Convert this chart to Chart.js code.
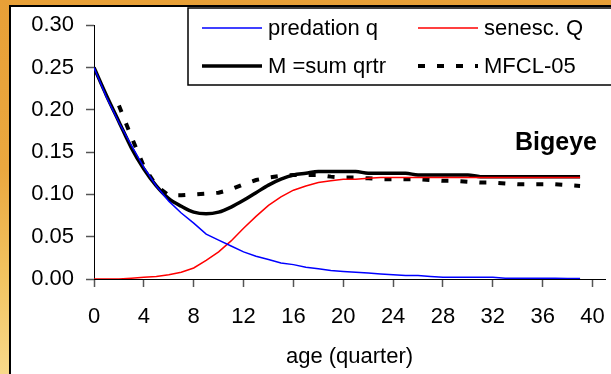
<!DOCTYPE html>
<html>
<head>
<meta charset="utf-8">
<title>Bigeye natural mortality at age</title>
<script src="https://cdn.jsdelivr.net/npm/chart.js@4/dist/chart.umd.min.js"></script>
<style>
    html, body { margin: 0; padding: 0; }
    body {
        width: 611px; height: 374px; overflow: hidden; position: relative;
        background: linear-gradient(180deg, #e8a037 0%, #eaa83f 45%, #f2c462 75%, #f8d98a 100%);
    }
    .panel {
        position: absolute; left: 9px; top: 5px; width: 700px; height: 500px;
        border: 2px solid #000; background: #fff;
    }
    #chart { position: absolute; left: 0; top: 0; }
</style>
</head>
<body>
<div class="panel"></div>
<canvas id="chart" width="611" height="374"></canvas>
<script>
'use strict';

// ============================================================
// Data — quarterly natural mortality by age
// ============================================================
const ages = [0,1,2,3,4,5,6,7,8,9,10,11,12,13,14,15,16,17,18,19,
              20,21,22,23,24,25,26,27,28,29,30,31,32,33,34,35,36,37,38,39];

const predation = [0.250,0.215,0.185,0.158,0.132,0.110,0.092,0.078,0.066,0.053,
                   0.046,0.039,0.032,0.027,0.023,0.019,0.017,0.014,0.012,0.010,
                   0.009,0.008,0.007,0.006,0.005,0.004,0.004,0.003,0.002,0.002,
                   0.002,0.002,0.002,0.001,0.001,0.001,0.001,0.001,0.0005,0.0005];

const senescence = [0,0,0,0.001,0.002,0.003,0.005,0.008,0.013,0.022,
                    0.032,0.045,0.060,0.074,0.087,0.097,0.105,0.110,0.114,0.116,
                    0.118,0.118,0.119,0.120,0.120,0.120,0.120,0.120,0.120,0.120,
                    0.120,0.120,0.120,0.120,0.120,0.120,0.120,0.120,0.120,0.120];

const totalM = [0.250,0.217,0.186,0.155,0.130,0.110,0.095,0.086,0.079,0.077,
                0.079,0.085,0.093,0.102,0.111,0.118,0.123,0.125,0.127,0.127,
                0.127,0.127,0.125,0.125,0.125,0.125,0.123,0.123,0.123,0.123,
                0.123,0.121,0.121,0.121,0.121,0.121,0.121,0.121,0.121,0.121];

const mfcl05 = [null,null,0.205,0.168,0.133,0.110,0.099,0.099,0.100,0.101,
                0.102,0.106,0.112,0.117,0.120,0.122,0.123,0.123,0.123,0.121,
                0.120,0.120,0.119,0.118,0.118,0.118,0.118,0.117,0.116,0.116,
                0.115,0.114,0.114,0.113,0.112,0.112,0.112,0.112,0.111,0.110];

const xTicks = [0, 4, 8, 12, 16, 20, 24, 28, 32, 36, 40];
const yTicks = [0, 0.05, 0.10, 0.15, 0.20, 0.25, 0.30];

const FONT = "'Liberation Sans', Arial, sans-serif";

function points(values) {
    return ages.map((a, i) => ({ x: a, y: values[i] }));
}

// ============================================================
// Plugins — boxed legend and species label
// ============================================================
const boxLegend = {
    id: 'boxLegend',
    afterDraw(chart) {
        const ctx = chart.ctx;
        const ds  = chart.data.datasets;
        const slots = [
            { i: 0, x: 202, y: 28 }, { i: 1, x: 418, y: 28 },
            { i: 2, x: 202, y: 66 }, { i: 3, x: 418, y: 66 }
        ];
        ctx.save();
        ctx.fillStyle = '#fff';
        ctx.fillRect(188, 8, 430, 77);
        ctx.strokeStyle = '#000';
        ctx.lineWidth = 1.5;
        ctx.strokeRect(188, 8, 430, 77);

        slots.forEach(s => {
            const d = ds[s.i];
            ctx.beginPath();
            ctx.strokeStyle = d.borderColor;
            ctx.lineWidth   = d.borderWidth;
            ctx.setLineDash(d.borderDash || []);
            ctx.lineCap = 'butt';
            ctx.moveTo(s.x, s.y);
            ctx.lineTo(s.x + 60, s.y);
            ctx.stroke();
            ctx.setLineDash([]);
            ctx.fillStyle = '#000';
            ctx.font = '22px ' + FONT;
            ctx.textBaseline = 'middle';
            ctx.textAlign = 'left';
            ctx.fillText(d.label, s.x + 66, s.y + 1);
        });

        ctx.font = 'bold 25px ' + FONT;
        ctx.textAlign = 'right';
        ctx.textBaseline = 'alphabetic';
        ctx.fillText('Bigeye', 597, 150);
        ctx.restore();
    }
};

// ============================================================
// Chart
// ============================================================
Chart.defaults.font.family = FONT;
Chart.defaults.color = '#000';

new Chart(document.getElementById('chart'), {
    type: 'line',
    data: {
        datasets: [
            { label: 'predation q', data: points(predation), borderColor: '#0000ff', borderWidth: 1.5, tension: 0 },
            { label: 'senesc. Q', data: points(senescence), borderColor: '#ff0000', borderWidth: 1.5, tension: 0 },
            { label: 'M =sum qrtr', data: points(totalM), borderColor: '#000', borderWidth: 3.5, cubicInterpolationMode: 'monotone' },
            { label: 'MFCL-05', data: points(mfcl05), borderColor: '#000', borderWidth: 4, borderDash: [7, 12], spanGaps: false }
        ]
    },
    options: {
        responsive: false,
        animation: false,
        events: [],
        elements: { point: { radius: 0 }, line: { fill: false, borderCapStyle: 'butt' } },
        layout: { padding: { left: 0, right: 6, top: 25, bottom: 0 } },
        plugins: { legend: { display: false }, tooltip: { enabled: false } },
        scales: {
            x: {
                type: 'linear', min: 0, max: 41,
                // fixed height; the edge labels fit inside the page without extra side padding
                afterFit: s => { s.height = 95; s.paddingLeft = 0; s.paddingRight = 0; },
                afterBuildTicks: s => { s.ticks = xTicks.map(v => ({ value: v })); },
                ticks: { padding: 17, maxRotation: 0, autoSkip: false, font: { size: 22 } },
                grid: { drawOnChartArea: false, tickLength: 8, color: '#555', tickWidth: 1.5 },
                border: { color: '#000', width: 1 },
                title: { display: true, text: 'age (quarter)', font: { size: 22 }, padding: { top: 0, bottom: 4 } }
            },
            y: {
                min: 0, max: 0.30,
                afterFit: s => { s.width = 94; },
                afterBuildTicks: s => { s.ticks = yTicks.map(v => ({ value: v })); },
                ticks: { padding: 12, font: { size: 22 }, callback: v => v.toFixed(2) },
                grid: { drawOnChartArea: false, tickLength: 8, color: '#555', tickWidth: 1.5 },
                border: { color: '#000', width: 1 }
            }
        }
    },
    plugins: [boxLegend]
});
</script>
</body>
</html>
